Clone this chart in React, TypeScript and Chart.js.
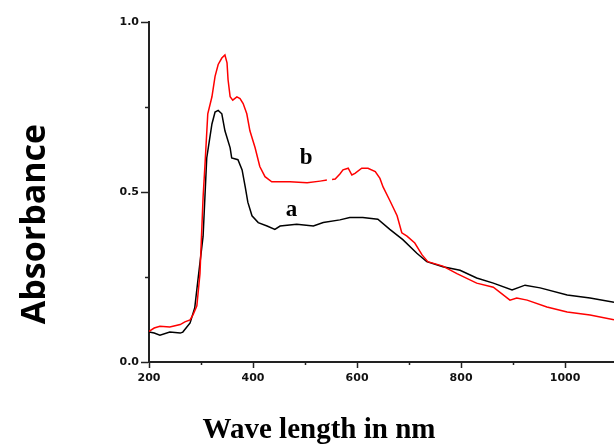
import React, { useEffect, useRef } from "react";
import { Chart, registerables } from "chart.js";

Chart.register(...registerables);

// Curve a (black)
const aWavelength = [200, 210, 221, 240, 260, 265, 279, 288, 294, 304, 311, 321, 327, 333, 340, 346, 356, 359, 371, 379, 385, 390, 398, 410, 427, 442, 452, 484, 516, 535, 567, 586, 611, 640, 663, 688, 715, 734, 765, 798, 830, 862, 898, 923, 952, 1004, 1048, 1094];
const aAbsorbance = [0.088, 0.085, 0.079, 0.088, 0.085, 0.088, 0.115, 0.16, 0.24, 0.37, 0.6, 0.7, 0.735, 0.74, 0.73, 0.68, 0.63, 0.6, 0.595, 0.565, 0.515, 0.47, 0.43, 0.41, 0.4, 0.39, 0.4, 0.405, 0.4, 0.41, 0.418, 0.425, 0.425, 0.42, 0.39, 0.36, 0.32, 0.295, 0.28, 0.27, 0.247, 0.232, 0.212, 0.226, 0.218, 0.197, 0.188, 0.176];

// Curve b (red); null marks the small break in the trace
const bWavelength = [200, 210, 221, 240, 260, 269, 279, 285, 292, 298, 304, 308, 313, 321, 327, 333, 340, 346, 350, 352, 356, 361, 369, 375, 381, 388, 394, 404, 413, 423, 436, 471, 504, 529, 542, 548, 552, 558, 567, 573, 583, 590, 596, 609, 621, 635, 644, 650, 663, 677, 686, 696, 711, 725, 736, 765, 792, 830, 862, 894, 907, 927, 965, 1004, 1048, 1094];
const bAbsorbance = [0.09, 0.1, 0.105, 0.103, 0.11, 0.118, 0.124, 0.14, 0.165, 0.26, 0.485, 0.59, 0.73, 0.78, 0.84, 0.875, 0.894, 0.903, 0.88, 0.83, 0.78, 0.77, 0.78, 0.775, 0.76, 0.73, 0.68, 0.63, 0.575, 0.545, 0.53, 0.53, 0.527, 0.532, 0.535, null, 0.537, 0.538, 0.553, 0.565, 0.57, 0.55, 0.555, 0.57, 0.57, 0.56, 0.54, 0.515, 0.475, 0.43, 0.38, 0.37, 0.35, 0.315, 0.295, 0.282, 0.26, 0.232, 0.22, 0.182, 0.188, 0.182, 0.162, 0.147, 0.138, 0.124];

const xMinorTicks = [300, 500, 700, 900];
const yMinorTicks = [0.25, 0.75];
const seriesNames = ["a", "b"];
const xTitle = "Wave length in nm";
const yTitle = "Absorbance";

const toPoints = (xs: number[], ys: (number | null)[]) => xs.map((x, i) => ({ x, y: ys[i] }));

export default function App() {
  const canvasRef = useRef<HTMLCanvasElement | null>(null);

  useEffect(() => {
    const canvas = canvasRef.current;
    if (!canvas) return;

    const textPlugin = {
      id: "textPlugin",
      afterDraw(chart: any) {
        const ctx = chart.ctx as CanvasRenderingContext2D;
        const xs = chart.scales.x;
        const ys = chart.scales.y;
        const area = chart.chartArea;
        ctx.save();
        // minor ticks
        ctx.strokeStyle = "#222";
        ctx.lineWidth = 1.5;
        xMinorTicks.forEach((v) => {
          const px = Math.round(xs.getPixelForValue(v)) + 0.5;
          ctx.beginPath();
          ctx.moveTo(px, area.bottom);
          ctx.lineTo(px, area.bottom + 3);
          ctx.stroke();
        });
        yMinorTicks.forEach((v) => {
          const py = Math.round(ys.getPixelForValue(v)) + 0.5;
          ctx.beginPath();
          ctx.moveTo(area.left, py);
          ctx.lineTo(area.left - 4, py);
          ctx.stroke();
        });
        ctx.fillStyle = "#000";
        ctx.font = "bold 23px 'Liberation Serif'";
        ctx.textAlign = "center";
        ctx.textBaseline = "middle";
        ctx.fillText(seriesNames[0], xs.getPixelForValue(474), ys.getPixelForValue(0.448));
        ctx.fillText(seriesNames[1], xs.getPixelForValue(502), ys.getPixelForValue(0.6));
        ctx.font = "bold 29px 'Liberation Serif'";
        ctx.textBaseline = "alphabetic";
        ctx.fillText(xTitle, 319, 438);
        ctx.translate(45, 224);
        ctx.rotate(-Math.PI / 2);
        ctx.font = "bold 34px 'Open Sans'";
        ctx.textAlign = "center";
        ctx.fillText(yTitle, 0, 0);
        ctx.restore();
      },
    };

    const chart = new Chart(canvas, {
      type: "line",
      data: {
        datasets: [
          {
            label: seriesNames[1],
            data: toPoints(bWavelength, bAbsorbance) as any,
            borderColor: "#ff0000",
            borderWidth: 1.5,
            pointRadius: 0,
            tension: 0,
            spanGaps: false,
          },
          {
            label: seriesNames[0],
            data: toPoints(aWavelength, aAbsorbance) as any,
            borderColor: "#000000",
            borderWidth: 1.5,
            pointRadius: 0,
            tension: 0,
            spanGaps: false,
          },
        ],
      },
      options: {
        animation: false,
        responsive: true,
        maintainAspectRatio: false,
        layout: { padding: { top: 22, right: 0, left: 0, bottom: 0 } },
        plugins: { legend: { display: false }, tooltip: { enabled: false } },
        scales: {
          x: {
            type: "linear",
            min: 200,
            max: 1094,
            border: { display: true, color: "#222", width: 2 },
            grid: {
              drawOnChartArea: false,
              drawTicks: true,
              tickLength: 6,
              tickColor: "#222",
              tickWidth: 1.5,
            },
            ticks: {
              stepSize: 200,
              includeBounds: false,
              maxRotation: 0,
              autoSkip: false,
              padding: 4,
              color: "#111",
              font: { family: "'DejaVu Sans'", size: 11, weight: "bold" },
              callback: (v: any) => String(Math.round(Number(v))),
            },
            afterFit: (s: any) => {
              s.height = 83;
            },
          },
          y: {
            type: "linear",
            min: 0,
            max: 1,
            border: { display: true, color: "#222", width: 2 },
            grid: {
              drawOnChartArea: false,
              drawTicks: true,
              tickLength: 8,
              tickColor: "#222",
              tickWidth: 1.5,
            },
            ticks: {
              stepSize: 0.5,
              autoSkip: false,
              padding: 2,
              color: "#111",
              font: { family: "'DejaVu Sans'", size: 11, weight: "bold" },
              callback: (v: any) => Number(v).toFixed(1),
            },
            afterFit: (s: any) => {
              s.width = 149;
            },
          },
        },
      },
      plugins: [textPlugin],
    } as any);

    return () => chart.destroy();
  }, []);

  return (
    <div style={{ position: "absolute", left: 0, top: 0, width: 614, height: 445, background: "#fff" }}>
      <canvas ref={canvasRef} />
    </div>
  );
}
